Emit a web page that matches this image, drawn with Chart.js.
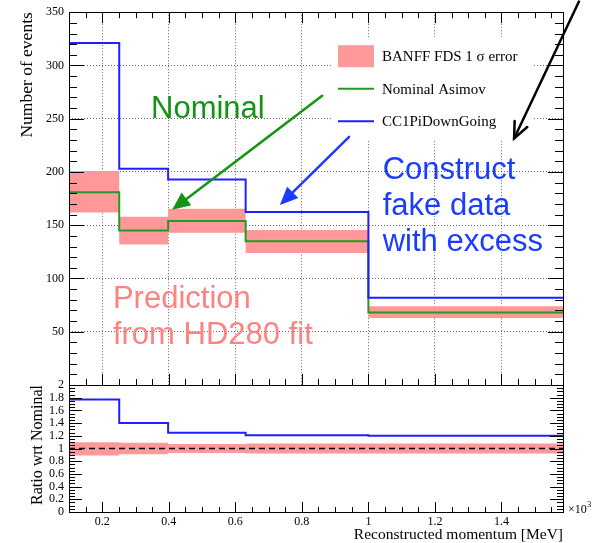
<!DOCTYPE html>
<html>
<head>
<meta charset="utf-8">
<script src="https://cdn.jsdelivr.net/npm/chart.js@4.4.1/dist/chart.umd.min.js"></script>
<style>
  html, body { margin: 0; padding: 0; background: #fff; }
  #wrap { position: relative; width: 602px; height: 543px; overflow: hidden; }
  canvas { position: absolute; left: 0; }
  #topCanvas { top: 0; }
  #ratioCanvas { top: 370px; }
</style>
</head>
<body>
<div id="wrap">
  <canvas id="topCanvas" width="602" height="400"></canvas>
  <canvas id="ratioCanvas" width="602" height="173"></canvas>
</div>
<script>
// bin edges, in units of 10^3 MeV
const binEdges = [0.1, 0.251, 0.398, 0.631, 1.0, 1.585];

// top panel: number of events per bin
const nominalAsimov = [181, 145, 154, 135, 68];
const errorLow = [162, 132, 143, 124, 63];
const errorHigh = [201, 158, 165.5, 145.5, 74];
const cc1piDownGoing = [321, 203, 193, 162.5, 82];

// bottom panel: ratio wrt nominal
const ratioNominal = [1, 1, 1, 1, 1];
const ratioErrorLow = [0.89, 0.91, 0.93, 0.92, 0.92];
const ratioErrorHigh = [1.1, 1.09, 1.07, 1.08, 1.08];
const ratioDownGoing = [1.77, 1.4, 1.25, 1.21, 1.2];

// tick labels
const xTickValues = [0.2, 0.4, 0.6, 0.8, 1, 1.2, 1.4];
const yTickValuesTop = [50, 100, 150, 200, 250, 300, 350];
const yTickValuesRatio = [0, 0.2, 0.4, 0.6, 0.8, 1, 1.2, 1.4, 1.6, 1.8, 2];

// annotations, anchored in data coordinates of the top panel
const labelNominal = { lines: ["Nominal"], at: [0.3465, 251], color: "#149414" };
const labelFakeData = { lines: ["Construct", "fake data", "with excess"], at: [1.043, 193], color: "#1a3cff" };
const labelPrediction = { lines: ["Prediction", "from HD280 fit"], at: [0.232, 72], color: "#ff8282" };
const arrowNominal = { from: [0.861, 271.5], to: [0.41, 164.5], color: "#149414", head: "filled" };
const arrowFakeData = { from: [0.942, 233], to: [0.734, 169], color: "#1a3cff", head: "filled" };
const arrowBlack = { from: [1.633, 360], to: [1.438, 231.5], color: "#000000", head: "open" };

const BLUE = "#1f1fff";
const GREEN = "#239a23";
const BAND = "#ff9999";
const SERIF = "'Liberation Serif', 'Times New Roman', serif";
const SANS = "'Liberation Sans', Arial, sans-serif";

function histPoints(values) {
  return binEdges.map((e, i) => ({ x: e, y: values[Math.min(i, values.length - 1)] }));
}

// chart.js "before" = hold the previous value until the next edge
function stepLine(label, values, colour, extra) {
  return Object.assign({
    label: label,
    data: histPoints(values),
    stepped: "before",
    borderColor: colour,
    borderWidth: 2,
    pointRadius: 0,
    fill: false,
  }, extra || {});
}

function bandPair(label, low, high) {
  return [
    stepLine(label, high, "rgba(0,0,0,0)", { borderWidth: 0, backgroundColor: BAND, fill: "+1", legendBox: true }),
    stepLine("", low, "rgba(0,0,0,0)", { borderWidth: 0 }),
  ];
}

// ROOT style frame with ticks pointing inwards on the requested sides
const rootFrame = {
  id: "rootFrame",
  afterDatasetsDraw(chart, args, opts) {
    const { ctx, chartArea: a } = chart;
    const xs = chart.scales.x;
    const ys = chart.scales.y;
    ctx.save();
    ctx.strokeStyle = "#000";
    ctx.lineWidth = 1;
    ctx.beginPath();
    for (let k = Math.ceil(xs.min / opts.xMinor - 1e-6); k * opts.xMinor <= xs.max + 1e-9; k++) {
      const v = k * opts.xMinor;
      const isMajor = Math.abs(v / opts.xMajor - Math.round(v / opts.xMajor)) < 1e-6;
      const len = isMajor ? opts.xLen[0] : opts.xLen[1];
      const px = Math.round(xs.getPixelForValue(v)) + 0.5;
      if (opts.top) { ctx.moveTo(px, a.top); ctx.lineTo(px, a.top + len); }
      if (opts.bottom) { ctx.moveTo(px, a.bottom); ctx.lineTo(px, a.bottom - len); }
    }
    for (let k = Math.ceil(ys.min / opts.yMinor - 1e-6); k * opts.yMinor <= ys.max + 1e-9; k++) {
      const v = k * opts.yMinor;
      const isMajor = Math.abs(v / opts.yMajor - Math.round(v / opts.yMajor)) < 1e-6;
      const len = isMajor ? opts.yLen[0] : opts.yLen[1];
      const py = Math.round(ys.getPixelForValue(v)) + 0.5;
      ctx.moveTo(a.left, py); ctx.lineTo(a.left + len, py);
      ctx.moveTo(a.right, py); ctx.lineTo(a.right - len, py);
    }
    ctx.stroke();
    ctx.strokeRect(Math.round(a.left) + 0.5, Math.round(a.top) + 0.5,
      Math.round(a.right - a.left), Math.round(a.bottom - a.top));
    ctx.restore();
  },
};

function drawArrow(ctx, xs, ys, arrow) {
  const x1 = xs.getPixelForValue(arrow.from[0]);
  const y1 = ys.getPixelForValue(arrow.from[1]);
  const x2 = xs.getPixelForValue(arrow.to[0]);
  const y2 = ys.getPixelForValue(arrow.to[1]);
  const ang = Math.atan2(y2 - y1, x2 - x1);
  const headLen = arrow.head === "filled" ? 18 : 16;
  const headHalf = arrow.head === "filled" ? 8 : 7;
  const bx = x2 - headLen * Math.cos(ang);
  const by = y2 - headLen * Math.sin(ang);
  const nx = -Math.sin(ang) * headHalf;
  const ny = Math.cos(ang) * headHalf;
  ctx.save();
  ctx.strokeStyle = arrow.color;
  ctx.fillStyle = arrow.color;
  ctx.lineWidth = 2.5;
  ctx.lineCap = "round";
  ctx.beginPath();
  ctx.moveTo(x1, y1);
  if (arrow.head === "filled") ctx.lineTo(bx, by); else ctx.lineTo(x2, y2);
  ctx.stroke();
  ctx.beginPath();
  if (arrow.head === "filled") {
    ctx.moveTo(x2, y2);
    ctx.lineTo(bx + nx, by + ny);
    ctx.lineTo(bx - nx, by - ny);
    ctx.closePath();
    ctx.fill();
  } else {
    ctx.moveTo(bx + nx, by + ny);
    ctx.lineTo(x2, y2);
    ctx.lineTo(bx - nx, by - ny);
    ctx.stroke();
  }
  ctx.restore();
}

const annotations = {
  id: "annotations",
  afterDraw(chart) {
    const { ctx, chartArea: a } = chart;
    const xs = chart.scales.x;
    const ys = chart.scales.y;

    // legend box in the upper right of the frame
    const lx = a.left + 263;
    const ly = a.top + 25;
    ctx.save();
    ctx.fillStyle = "#fff";
    ctx.fillRect(lx, ly, 201, 102);
    const entries = [chart.data.datasets[2], chart.data.datasets[1], chart.data.datasets[0]];
    ctx.font = "15px " + SERIF;
    ctx.textBaseline = "alphabetic";
    entries.forEach((ds, i) => {
      const cy = ly + 19 + i * 32.5;
      if (ds.legendBox) {
        ctx.fillStyle = ds.backgroundColor;
        ctx.fillRect(lx + 6, cy - 11, 36, 22);
      } else {
        ctx.strokeStyle = ds.borderColor;
        ctx.lineWidth = 2;
        ctx.beginPath();
        ctx.moveTo(lx + 6, cy);
        ctx.lineTo(lx + 42, cy);
        ctx.stroke();
      }
      ctx.fillStyle = "#000";
      ctx.fillText(ds.label, lx + 50, cy + 5);
    });
    ctx.restore();

    // big coloured labels
    ctx.save();
    ctx.font = "31px " + SANS;
    ctx.textBaseline = "alphabetic";
    [labelNominal, labelFakeData, labelPrediction].forEach((lab) => {
      ctx.fillStyle = lab.color;
      const x0 = xs.getPixelForValue(lab.at[0]);
      const y0 = ys.getPixelForValue(lab.at[1]);
      lab.lines.forEach((t, i) => ctx.fillText(t, x0, y0 + i * 36));
    });
    ctx.restore();

    [arrowNominal, arrowFakeData, arrowBlack].forEach((ar) => drawArrow(ctx, xs, ys, ar));
  },
};

const exponentLabel = {
  id: "exponentLabel",
  afterDraw(chart) {
    const { ctx, chartArea: a } = chart;
    ctx.save();
    ctx.fillStyle = "#000";
    ctx.textBaseline = "alphabetic";
    ctx.font = "12px " + SERIF;
    const base = "\u00d710";
    ctx.fillText(base, a.right + 5, a.bottom + 1);
    const w = ctx.measureText(base).width;
    ctx.font = "8px " + SERIF;
    ctx.fillText("3", a.right + 5 + w + 0.5, a.bottom - 5);
    ctx.restore();
  },
};

function tickFont(size) {
  return { family: SERIF, size: size };
}

const gridDotted = { color: "rgba(0,0,0,0.6)", drawTicks: false, lineWidth: 1 };

// ---------- top panel ----------
new Chart(document.getElementById("topCanvas"), {
  type: "line",
  data: {
    datasets: [
      stepLine("CC1PiDownGoing", cc1piDownGoing, BLUE),
      stepLine("Nominal Asimov", nominalAsimov, GREEN),
    ].concat(bandPair("BANFF FDS 1 \u03c3 error", errorLow, errorHigh)),
  },
  options: {
    responsive: false,
    animation: false,
    events: [],
    layout: { padding: { left: 0, top: 10, right: 39, bottom: 15 } },
    plugins: {
      legend: { display: false },
      tooltip: { enabled: false },
      rootFrame: { top: true, bottom: true, xMajor: 0.2, xMinor: 0.05, xLen: [11, 6], yMajor: 50, yMinor: 10, yLen: [15, 8] },
    },
    scales: {
      x: {
        type: "linear",
        min: binEdges[0],
        max: binEdges[binEdges.length - 1],
        afterBuildTicks: (s) => { s.ticks = xTickValues.map((v) => ({ value: v })); },
        afterFit: (s) => { s.height = 0; },
        ticks: { display: false, autoSkip: false },
        grid: gridDotted,
        border: { display: false, dash: [1, 2] },
      },
      y: {
        min: 0,
        max: 350,
        afterBuildTicks: (s) => { s.ticks = yTickValuesTop.map((v) => ({ value: v })); },
        afterFit: (s) => { s.width = 69; },
        ticks: { font: tickFont(12), color: "#000", padding: 5, autoSkip: false },
        grid: gridDotted,
        border: { display: false, dash: [1, 2] },
        title: {
          display: true,
          text: "Number of events",
          align: "end",
          color: "#000",
          font: { family: SERIF, size: 17.5 },
          padding: { top: 17, bottom: 0 },
        },
      },
    },
  },
  plugins: [rootFrame, annotations],
});

// ---------- ratio panel ----------
new Chart(document.getElementById("ratioCanvas"), {
  type: "line",
  data: {
    datasets: [
      stepLine("CC1PiDownGoing", ratioDownGoing, BLUE),
      stepLine("Nominal Asimov", ratioNominal, "#000", { borderWidth: 1.5, borderDash: [6, 4] }),
    ].concat(bandPair("BANFF FDS 1 \u03c3 error", ratioErrorLow, ratioErrorHigh)),
  },
  options: {
    responsive: false,
    animation: false,
    events: [],
    layout: { padding: { left: 0, top: 15, right: 39, bottom: 0 } },
    plugins: {
      legend: { display: false },
      tooltip: { enabled: false },
      rootFrame: { top: false, bottom: true, xMajor: 0.2, xMinor: 0.05, xLen: [10, 5], yMajor: 0.2, yMinor: 0.05, yLen: [13, 6] },
    },
    scales: {
      x: {
        type: "linear",
        min: binEdges[0],
        max: binEdges[binEdges.length - 1],
        afterBuildTicks: (s) => { s.ticks = xTickValues.map((v) => ({ value: v })); },
        afterFit: (s) => { s.height = 31; },
        ticks: { font: tickFont(12), color: "#000", padding: 3, maxRotation: 0, autoSkip: false, callback: (v) => String(v) },
        grid: { display: false, drawTicks: false },
        border: { display: false },
        title: {
          display: true,
          text: "Reconstructed momentum [MeV]",
          align: "end",
          color: "#000",
          font: { family: SERIF, size: 15.5, lineHeight: 1.0 },
          padding: { top: 0, bottom: 0 },
        },
      },
      y: {
        min: 0,
        max: 2,
        afterBuildTicks: (s) => { s.ticks = yTickValuesRatio.map((v) => ({ value: v })); },
        afterFit: (s) => { s.width = 69; },
        ticks: { font: tickFont(12), color: "#000", padding: 5, autoSkip: false, callback: (v) => String(Math.round(v * 10) / 10) },
        grid: { display: false, drawTicks: false },
        border: { display: false },
        title: {
          display: true,
          text: "Ratio wrt Nominal",
          align: "end",
          color: "#000",
          font: { family: SERIF, size: 16 },
          padding: { top: 28, bottom: 0 },
        },
      },
    },
  },
  plugins: [rootFrame, exponentLabel],
});
</script>
</body>
</html>
